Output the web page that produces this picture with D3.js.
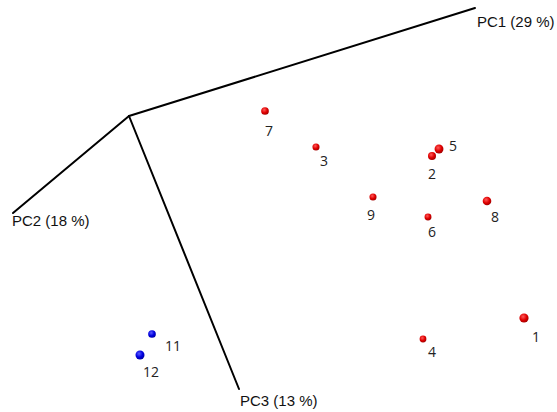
<!DOCTYPE html>
<html><head><meta charset="utf-8">
<script src="https://cdn.jsdelivr.net/npm/d3@7"></script>
<style>html,body{margin:0;padding:0;background:#fff;}svg{display:block;}</style>
</head><body>
<svg id="chart" width="557" height="412"></svg>
<script>
// Projected PCA scores (screen-plane projection, origin at PC axes origin)
const sampleLabels = ["1","2","3","4","5","6","7","8","9","11","12"];
const projX = [395, 303, 187, 294, 310, 299, 136, 358, 244, 23, 11];
const projY = [-202, -40, -31, -223, -33, -101, 5, -85, -81, -218, -239];
const depth = [1.0, 0.6, 0.3, 0.2, 0.9, 0.25, 0.5, 0.8, 0.3, 0.5, 0.95];
const groups = ["A","A","A","A","A","A","A","A","A","B","B"];

const axisNames = ["PC1 (29 %)", "PC2 (18 %)", "PC3 (13 %)"];
const axisEndX = [346, -116, 110];
const axisEndY = [108, -97, -273];

// layout (label placement relative to marks)
const labelDx = [12, 0, 8, 9, 14, 4, 4, 8, -2, 21, 11];
const labelDy = [24, 23, 19, 18, 2, 20, 25, 21, 23, 17, 22];
const axisLabelDx = [2, -1, 1];
const axisLabelDy = [19, 13, 17];
const axisAnchor = ["start", "start", "start"];

const W = 557, H = 412;
const svg = d3.select("#chart");
const x = d3.scaleLinear().domain([-129, 428]).range([0, W]);
const y = d3.scaleLinear().domain([116, -296]).range([0, H]);
const r = d3.scaleLinear().domain([0, 1]).range([3.1, 4.6]);

const defs = svg.append("defs");
[["A","#ff5a5a","#e00000","#9a0000"],["B","#5a5aff","#0000e0","#00009a"]].forEach(([g,c0,c1,c2])=>{
  const gr = defs.append("radialGradient").attr("id","grad"+g).attr("cx","40%").attr("cy","35%").attr("r","70%");
  gr.append("stop").attr("offset","0%").attr("stop-color",c0);
  gr.append("stop").attr("offset","55%").attr("stop-color",c1);
  gr.append("stop").attr("offset","100%").attr("stop-color",c2);
});

// axes
const axes = axisNames.map((n,i)=>({name:n, ex:axisEndX[i], ey:axisEndY[i], i}));
svg.append("g").selectAll("line").data(axes).join("line")
  .attr("x1", x(0)).attr("y1", y(0))
  .attr("x2", d=>x(d.ex)).attr("y2", d=>y(d.ey))
  .attr("stroke","#000").attr("stroke-width",2).attr("stroke-linecap","round");
svg.append("g").selectAll("text").data(axes).join("text")
  .attr("x", d=>x(d.ex)+axisLabelDx[d.i]).attr("y", d=>y(d.ey)+axisLabelDy[d.i])
  .attr("text-anchor", d=>axisAnchor[d.i])
  .attr("font-family","'Liberation Sans', Arial, sans-serif").attr("font-size",15)
  .attr("fill","#111").text(d=>d.name);

// points
const pts = sampleLabels.map((l,i)=>({l, x:projX[i], y:projY[i], d:depth[i], g:groups[i], i}));
svg.append("g").selectAll("circle").data(pts).join("circle")
  .attr("cx", d=>x(d.x)).attr("cy", d=>y(d.y)).attr("r", d=>r(d.d))
  .attr("fill", d=>`url(#grad${d.g})`);
svg.append("g").selectAll("text").data(pts).join("text")
  .attr("x", d=>x(d.x)+labelDx[d.i]).attr("y", d=>y(d.y)+labelDy[d.i])
  .attr("text-anchor","middle")
  .attr("font-family","'Open Sans', sans-serif").attr("font-size",14)
  .attr("fill","#222").text(d=>d.l);
</script>
</body></html>
